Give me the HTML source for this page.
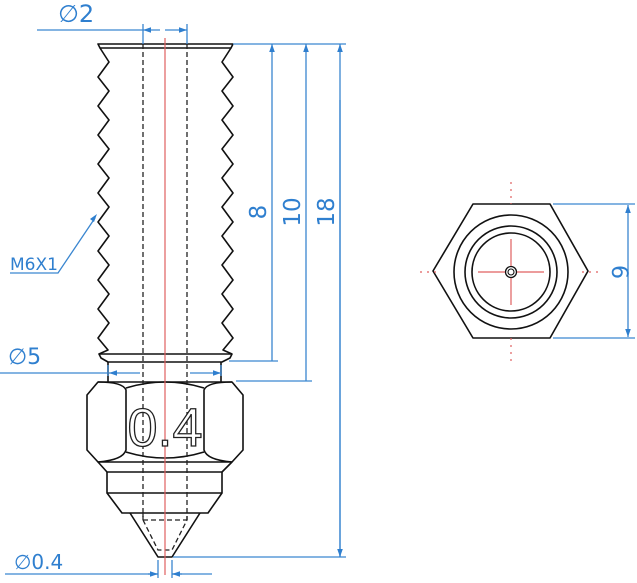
<!DOCTYPE html>
<html><head><meta charset="utf-8"><style>
html,body{margin:0;padding:0;background:#fff;}
svg{display:block;}
.b{fill:none;stroke:#111;stroke-width:1.6;stroke-linejoin:round;}
.d{fill:none;stroke:#222;stroke-width:1.3;stroke-dasharray:5,3;}
.bl{fill:none;stroke:#3a86d0;stroke-width:1.3;}
.r{fill:none;stroke:#e06060;stroke-width:1.2;}
.t{font-family:"DejaVu Sans","Liberation Sans",sans-serif;fill:#2f7fcf;}
</style></head><body>
<svg width="637" height="583" viewBox="0 0 637 583" xmlns="http://www.w3.org/2000/svg">
<defs>
<marker id="a" viewBox="0 0 10 10" refX="10" refY="5" markerWidth="8" markerHeight="8" orient="auto-start-reverse" markerUnits="userSpaceOnUse"><path d="M0,1.5 L10,5 L0,8.5z" fill="#2f7fcf"/></marker>
</defs>

<path class="b" d="M98,44 L233,44 L231,48 L100,48 Z"/>
<path class="b" d="M100,48 L109,62 L98,77 L109,91 L98,106 L109,120 L98,135 L109,149 L98,164 L109,178 L98,193 L109,207 L98,222 L109,236 L98,251 L109,265 L98,280 L109,294 L98,309 L109,323 L98,338 L108,350 L99,354"/>
<path class="b" d="M231,48 L222,62 L233,77 L222,91 L233,106 L222,120 L233,135 L222,149 L233,164 L222,178 L233,193 L222,207 L233,222 L222,236 L233,251 L222,265 L233,280 L222,294 L233,309 L222,323 L233,338 L223,350 L232,354"/>
<path class="b" d="M99,354 L232,354 L230,358 L222,362 L108,362 L101,358 Z"/>
<path class="b" d="M108,362 L108,382 M221,362 L221,382"/>
<path class="b" d="M98,382 L232,382 L243,395 L243,450 L232,462 L98,462 L87,450 L87,395 Z"/>
<path class="b" d="M126,388 Q165,376 204,388 M126,452 Q165,464 204,452"/>
<path class="b" d="M98,382 Q123,382 126,390 L126,450 Q123,460 98,462 M232,382 Q207,382 204,390 L204,450 Q207,460 232,462"/>
<path class="b" d="M98,462 L107,472 L222,472 L232,462"/>
<path class="b" d="M107,472 L107,493 L222,493 L222,472"/>
<path class="b" d="M107,493 L122,513 L208,513 L222,493"/>
<path class="b" d="M130,513 L158,557 L172,557 L200,513"/>
<path class="d" d="M143,512 L143,520 L158,550 L172,550 L187,520 L187,512 M143,520 L187,520"/>
<path class="d" d="M143,44 L143,520 M187,44 L187,520"/>
<path class="r" d="M165,38 L165,575"/>
<text x="165" y="446" text-anchor="middle" font-family="Liberation Sans,sans-serif" font-size="54" fill="#fff" stroke="#222" stroke-width="1.3">0.4</text>

<path class="bl" d="M143,24 L143,44 M187,24 L187,44"/>
<path class="bl" d="M37,30 L143,30"/>
<path class="bl" d="M160,30 L143,30" marker-end="url(#a)"/>
<path class="bl" d="M165,30 L187,30" marker-end="url(#a)"/>
<text class="t" x="58" y="22" font-size="24">∅2</text>

<path class="bl" d="M233,44 L346,44 M229,361 L278,361 M236,381 L312,381 M173,557 L346,557"/>
<path class="bl" d="M272,361 L272,44" marker-end="url(#a)"/>
<path class="bl" d="M306,381 L306,44" marker-end="url(#a)"/>
<path class="bl" d="M340,557 L340,44" marker-end="url(#a)"/>
<path class="bl" d="M340,100 L340,557" marker-end="url(#a)"/>
<text class="t" font-size="23" transform="translate(266,212) rotate(-90)" text-anchor="middle">8</text>
<text class="t" font-size="23" transform="translate(300,212) rotate(-90)" text-anchor="middle">10</text>
<text class="t" font-size="23" transform="translate(334,212) rotate(-90)" text-anchor="middle">18</text>

<path class="bl" d="M0,373 L108,373"/>
<path class="bl" d="M140,373 L109,373" marker-end="url(#a)"/>
<path class="bl" d="M190,373 L221,373" marker-end="url(#a)"/>
<path class="bl" d="M108,365 L108,376 M221,365 L221,376"/>
<text class="t" x="8" y="364" font-size="22">∅5</text>

<text class="t" x="10" y="270" font-size="17">M6X1</text>
<path class="bl" d="M10,273 L58,273 L95,218"/>
<path d="M97,214 L90,219 L94,222 Z" fill="#2f7fcf"/>

<path class="bl" d="M5,574 L158,574 M172,574 L212,574 M158,560 L158,578 M172,560 L172,578"/>
<path class="bl" d="M148,574 L158,574" marker-end="url(#a)"/>
<path class="bl" d="M182,574 L172,574" marker-end="url(#a)"/>
<text class="t" x="14" y="569" font-size="20">∅0.4</text>

<path class="b" d="M473,204 L550,204 L588,271 L550,338 L473,338 L433,271 Z"/>
<circle class="b" cx="511" cy="272" r="57"/>
<circle class="b" cx="511" cy="272" r="46"/>
<circle class="b" cx="511" cy="272" r="39"/>
<circle class="b" cx="511" cy="272" r="5.5" style="stroke-width:1.3"/>
<circle class="b" cx="511" cy="272" r="3" style="stroke-width:1.1"/>
<path class="r" d="M478,272 L505,272 M517,272 L544,272 M511,239 L511,266 M511,278 L511,305"/>
<path class="r" style="stroke-dasharray:2,5" d="M420,272 L440,272 M582,272 L602,272 M511,182 L511,204 M511,338 L511,362"/>
<path class="bl" d="M553,204 L635,204 M553,338 L635,338"/>
<path class="bl" d="M628,230 L628,205" marker-end="url(#a)"/>
<path class="bl" d="M628,230 L628,337" marker-end="url(#a)"/>
<text class="t" font-size="22" transform="translate(612,272) rotate(90)" text-anchor="middle">6</text>
</svg>
</body></html>
